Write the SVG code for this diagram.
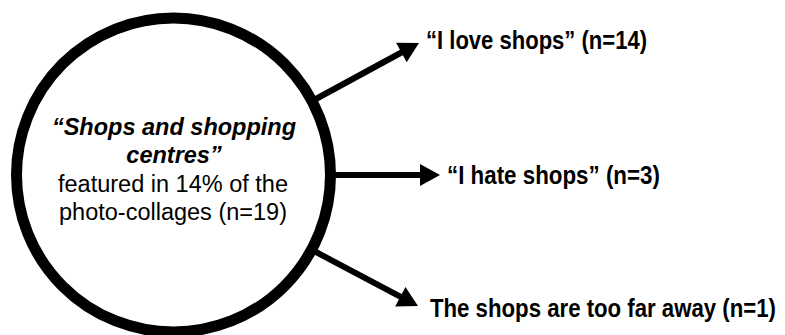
<svg xmlns="http://www.w3.org/2000/svg" width="785" height="335" viewBox="0 0 785 335">
  <defs>
    <style>
      .conn { stroke: #000; stroke-width: 6; fill: none; marker-end: url(#arrow); }
      .label { font-family: "Liberation Sans", Arial, sans-serif; font-weight: bold; font-size: 26px; fill: #000; }
      .ctext { font-family: "Liberation Sans", Arial, sans-serif; font-size: 23.5px; fill: #000; text-anchor: middle; }
      .ctitle { font-weight: bold; font-style: italic; }
    </style>
    <marker id="arrow" markerUnits="userSpaceOnUse" markerWidth="22" markerHeight="22" refX="1" refY="11" orient="auto" overflow="visible">
      <path d="M0,0 L20,11 L0,22 Z" fill="#000"/>
    </marker>
  </defs>
  <rect width="785" height="335" fill="#fff"/>
  <g id="connectors">
    <line class="conn" x1="314" y1="100" x2="402.3" y2="52"/>
    <line class="conn" x1="330" y1="175" x2="421" y2="175"/>
    <line class="conn" x1="314" y1="251" x2="401.2" y2="297.2"/>
  </g>
  <g id="centre">
    <circle cx="173.5" cy="175" r="157" fill="#fff" stroke="#000" stroke-width="11"/>
    <text class="ctext ctitle" x="174" y="135">“Shops and shopping</text>
    <text class="ctext ctitle" x="174" y="163">centres”</text>
    <text class="ctext" x="173" y="192">featured in 14% of the</text>
    <text class="ctext" x="173" y="220">photo-collages (n=19)</text>
  </g>
  <g id="love" transform="translate(426,49) scale(0.85,1)">
    <text class="label" x="0" y="0" textLength="260" lengthAdjust="spacingAndGlyphs">“I love shops” (n=14)</text>
  </g>
  <g id="hate" transform="translate(447,184) scale(0.85,1)">
    <text class="label" x="0" y="0" textLength="250.5" lengthAdjust="spacingAndGlyphs">“I hate shops” (n=3)</text>
  </g>
  <g id="far" transform="translate(430,317) scale(0.85,1)">
    <text class="label" x="0" y="0" textLength="407" lengthAdjust="spacingAndGlyphs">The shops are too far away (n=1)</text>
  </g>
</svg>
